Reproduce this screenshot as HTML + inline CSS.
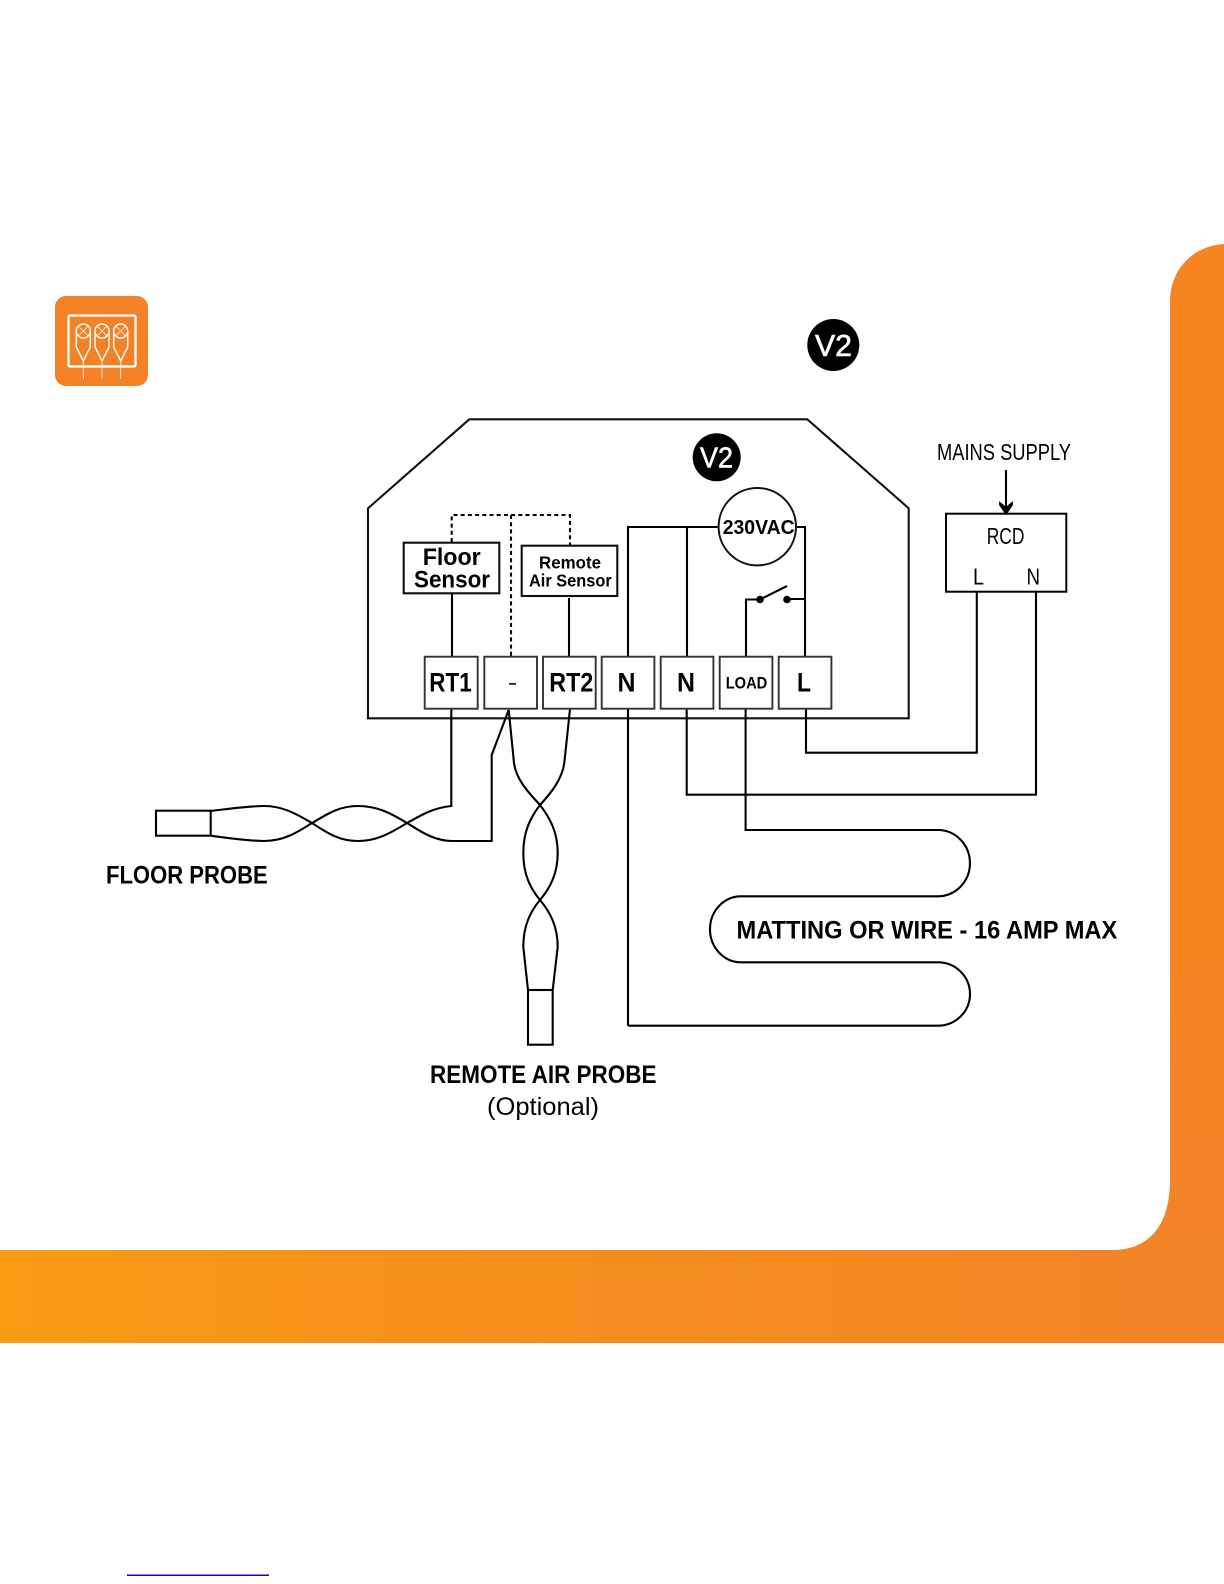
<!DOCTYPE html>
<html>
<head>
<meta charset="utf-8">
<style>
html,body{margin:0;padding:0;background:#fff;}
body{width:1224px;height:1584px;overflow:hidden;}
svg{display:block;}
text{font-family:"Liberation Sans",sans-serif;fill:#000;}
</style>
</head>
<body>
<svg width="1224" height="1584" viewBox="0 0 1224 1584" xmlns="http://www.w3.org/2000/svg">
<defs>
<linearGradient id="band" x1="0" y1="0" x2="1" y2="0">
<stop offset="0" stop-color="#f79c13"/>
<stop offset="0.5" stop-color="#f58d1e"/>
<stop offset="1" stop-color="#f38327"/>
</linearGradient>
<linearGradient id="side" x1="0" y1="0" x2="0" y2="1">
<stop offset="0" stop-color="#f58421"/>
<stop offset="0.7" stop-color="#f58421"/>
<stop offset="1" stop-color="#f38327"/>
</linearGradient>
</defs>
<rect width="1224" height="1584" fill="#fff"/>

<!-- orange frame -->
<rect x="0" y="1250" width="1224" height="93" fill="url(#band)"/>
<path d="M1224,244 C1192,246 1170,270 1170,302 L1170,1180 C1170,1222 1152,1250 1112,1250 L1224,1250 Z" fill="url(#side)"/>
<rect x="127" y="1574.5" width="142" height="1.5" fill="#0a0aa0"/>

<!-- icon -->
<rect x="55" y="296" width="93" height="90" rx="11" ry="11" fill="#f28225"/>
<g fill="none" stroke="#fff">
<rect x="68.5" y="315.5" width="67" height="51" rx="1.5" stroke-width="2.3"/>
<g stroke-width="1.4">
<circle cx="83.3" cy="331" r="7"/>
<path d="M76.3,331V347L83.3,361L90.3,347V331"/>
<circle cx="102" cy="331" r="7"/>
<path d="M95,331V347L102,361L109,347V331"/>
<circle cx="120.7" cy="331" r="7"/>
<path d="M113.7,331V347L120.7,361L127.7,347V331"/>
</g>
<g stroke-width="0.8">
<path d="M78.4,326.1L88.2,335.9M88.2,326.1L78.4,335.9M83.3,361V379"/>
<path d="M97.1,326.1L106.9,335.9M106.9,326.1L97.1,335.9M102,361V379"/>
<path d="M115.8,326.1L125.6,335.9M125.6,326.1L115.8,335.9M120.7,361V379"/>
</g>
</g>

<!-- V2 badges -->
<circle cx="833.3" cy="345" r="26" fill="#000"/>
<text x="815" y="356" font-size="30.5" textLength="37" lengthAdjust="spacingAndGlyphs" style="fill:#fff;stroke:#fff;stroke-width:.6">V2</text>
<circle cx="716.7" cy="457.3" r="24" fill="#000"/>
<text x="700" y="467.3" font-size="29" textLength="33" lengthAdjust="spacingAndGlyphs" style="fill:#fff;stroke:#fff;stroke-width:.6">V2</text>

<!-- housing -->
<path d="M469.3,419.3H807.3L908.7,508.3V718.3H368V508.3Z" fill="none" stroke="#111" stroke-width="2.1"/>

<!-- dotted -->
<path d="M451.7,542V515H570V545M511,515V656" fill="none" stroke="#000" stroke-width="2.1" stroke-dasharray="4 3.2"/>

<!-- wires -->
<g fill="none" stroke="#000" stroke-width="2.1">
<path d="M452,593V656M569,598V656"/>
<path d="M628,1025.7V527H719M687,527V656M797,527H805V656"/>
<path d="M746,656V599.5H760L787,586M787,599H805"/>
<path d="M806,708V752.7H976.8V592M686.7,708V794.7H1036V592"/>
<path d="M745.6,708V830H938A32,33.15 0 0 1 938,896.3H741A31,33 0 0 0 741,962.3H938A32,31.7 0 0 1 938,1025.7H628"/>
<path d="M1006,470V510"/>
<!-- floor probe strands -->
<path d="M451.3,708V806C432,808 420,816 407,823C392,832 378,841 358,841C338,841 326,832 312,823C298,815 284,806 264,806C248,806 228,809 210.7,811"/>
<path d="M508.7,710L491.7,755V841H452C434,841 420,831 407,823C392,814 378,806 358,806C338,806 326,815 312,823C298,832 284,841 264,841C248,841 228,838 210.7,835.7"/>
<rect x="156" y="810.7" width="54.7" height="25"/>
<!-- remote probe strands -->
<path d="M508.7,710L514,763C516,780 530,794 540,805C550,818 557.7,832 557.7,853C557.7,874 550,888 540,900C530,912 523.3,926 523.3,947L528,990"/>
<path d="M570,709L564.3,763C562,780 550,794 540,805C530,818 523.3,832 523.3,853C523.3,874 530,888 540,900C550,912 557.7,926 557.7,947L552.7,990"/>
<rect x="528" y="990" width="24.7" height="54.7"/>
</g>
<path d="M1006,514.5L999.5,505L999.5,502C1002,504 1004,505 1006,508C1008,505 1010,504 1012.5,502L1012.5,505Z" fill="#000" stroke="#000" stroke-width="0.8"/>
<circle cx="760" cy="599.5" r="3.8" fill="#000"/>
<circle cx="787" cy="599.5" r="3.8" fill="#000"/>

<!-- 230VAC -->
<circle cx="757.3" cy="526.7" r="38.7" fill="#fff" stroke="#111" stroke-width="2"/>
<text x="722.7" y="534" font-size="20" font-weight="700" textLength="72" lengthAdjust="spacingAndGlyphs">230VAC</text>

<!-- sensor boxes -->
<g fill="#fff" stroke="#111" stroke-width="2.1">
<rect x="403.7" y="542.7" width="95.6" height="50.6"/>
<rect x="521.7" y="545.7" width="95.6" height="50.3"/>
</g>
<text x="422.7" y="565" font-size="24" font-weight="700" textLength="58" lengthAdjust="spacingAndGlyphs">Floor</text>
<text x="414" y="587.3" font-size="24" font-weight="700" textLength="76" lengthAdjust="spacingAndGlyphs">Sensor</text>
<text x="539" y="568.3" font-size="17.5" font-weight="700" textLength="62" lengthAdjust="spacingAndGlyphs">Remote</text>
<text x="529" y="586.7" font-size="17.5" font-weight="700" textLength="82.7" lengthAdjust="spacingAndGlyphs">Air Sensor</text>

<!-- terminals -->
<g fill="#fff" stroke="#333" stroke-width="1.9">
<rect x="424.7" y="656.7" width="53" height="52"/>
<rect x="484.3" y="656.7" width="52.7" height="52"/>
<rect x="543" y="656.7" width="52.7" height="52"/>
<rect x="601.7" y="656.7" width="52.7" height="52"/>
<rect x="660.7" y="656.7" width="52.7" height="52"/>
<rect x="719.7" y="656.7" width="52.7" height="52"/>
<rect x="778.7" y="656.7" width="52.7" height="52"/>
</g>
<text x="429.3" y="691.7" font-size="27" font-weight="700" textLength="42.4" lengthAdjust="spacingAndGlyphs">RT1</text>
<rect x="509" y="683" width="7" height="1.8" fill="#222"/>
<text x="549.3" y="691.7" font-size="27" font-weight="700" textLength="44" lengthAdjust="spacingAndGlyphs">RT2</text>
<text x="617.5" y="691.7" font-size="27" font-weight="700" textLength="18" lengthAdjust="spacingAndGlyphs">N</text>
<text x="677" y="691.7" font-size="27" font-weight="700" textLength="18" lengthAdjust="spacingAndGlyphs">N</text>
<text x="725.7" y="688.7" font-size="17" font-weight="700" textLength="41.6" lengthAdjust="spacingAndGlyphs">LOAD</text>
<text x="797" y="691.7" font-size="27" font-weight="700" textLength="14" lengthAdjust="spacingAndGlyphs">L</text>

<!-- RCD -->
<rect x="946" y="513.7" width="120.3" height="78" fill="none" stroke="#000" stroke-width="2"/>
<text x="937" y="460" font-size="23" textLength="134" lengthAdjust="spacingAndGlyphs">MAINS SUPPLY</text>
<text x="986.7" y="544" font-size="23" textLength="37.7" lengthAdjust="spacingAndGlyphs">RCD</text>
<text x="973" y="584.3" font-size="23" textLength="11" lengthAdjust="spacingAndGlyphs">L</text>
<text x="1026.5" y="584.3" font-size="23" textLength="13.5" lengthAdjust="spacingAndGlyphs">N</text>

<!-- labels -->
<text x="736.5" y="938.7" font-size="25" font-weight="700" textLength="380.8" lengthAdjust="spacingAndGlyphs">MATTING OR WIRE - 16 AMP MAX</text>
<text x="106" y="883.3" font-size="25" font-weight="700" textLength="161.7" lengthAdjust="spacingAndGlyphs">FLOOR PROBE</text>
<text x="430" y="1083" font-size="25" font-weight="700" textLength="226.5" lengthAdjust="spacingAndGlyphs">REMOTE AIR PROBE</text>
<text x="487" y="1115" font-size="25" textLength="112" lengthAdjust="spacingAndGlyphs">(Optional)</text>
</svg>
</body>
</html>
